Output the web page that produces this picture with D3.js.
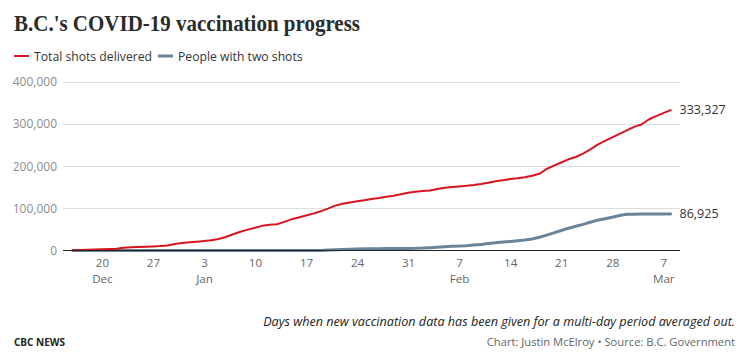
<!DOCTYPE html>
<html>
<head>
<meta charset="utf-8">
<script src="https://cdn.jsdelivr.net/npm/d3@7"></script>
<style>
  html, body { margin: 0; padding: 0; background: #fff; }
  svg { display: block; }
  text { font-family: "Open Sans", sans-serif; }
</style>
</head>
<body>
<svg id="chart" width="741" height="360"></svg>
<script>
// ---------- data ----------
const startDate = "2020-12-16";
const endDate = "2021-03-08";
const seriesNames = ["Total shots delivered", "People with two shots"];
const seriesColors = ["#d7141f", "#6a8499"];

const totalShots = [
  500, 1000, 1800, 2500, 3000, 3500, 4200, 6500, 8000, 8500, 9000, 9600, 10500, 12000, 15500, 18000,
  19500, 21000, 22500, 24500, 27500, 32000, 38500, 44500, 49500, 54000, 58500, 61000, 62500, 68000, 74000,
  78500, 83000, 87500, 93000, 99500, 106500, 111000, 114000, 117000, 119500, 122000, 124500, 127500, 130000,
  133500, 137000,
  139500, 141000, 142500, 146000, 149000, 150500, 152000, 153500, 155500, 158000, 161000, 164500, 167000,
  169500, 171500, 174000, 177500, 182000, 193500, 201500, 209000, 216500, 222000, 230000, 240000, 251500,
  260000, 268500,
  277000, 285000, 293500, 299000, 311000, 319000, 326000, 333327
];

const twoShots = [
  0, 0, 0, 0, 0, 0, 0, 0, 0, 0, 0, 0, 0, 0, 0, 0,
  0, 0, 0, 0, 0, 0, 0, 0, 0, 0, 0, 0, 0, 0, 0,
  0, 0, 0, 0, 1000, 2000, 2500, 3000, 3500, 4000, 4200, 4400, 4500, 4600,
  4800, 5000,
  5200, 5800, 6800, 8000, 9000, 10000, 10500, 11500, 13000, 14500, 16500, 18500, 20000,
  21500, 23000, 25000, 27500, 31500, 36500, 42000, 47500, 53000, 57500, 62000, 67000, 72000,
  75500, 79000,
  83000, 86000, 86300, 86500, 86600, 86700, 86800, 86925
];

const yTicks = [0, 100000, 200000, 300000, 400000];
const xTickDates = ["2020-12-20", "2020-12-27", "2021-01-03", "2021-01-10", "2021-01-17", "2021-01-24",
  "2021-01-31", "2021-02-07", "2021-02-14", "2021-02-21", "2021-02-28", "2021-03-07"];
const monthLabels = { "2020-12-20": "Dec", "2021-01-03": "Jan", "2021-02-07": "Feb", "2021-03-07": "Mar" };

const titleText = "B.C.'s COVID-19 vaccination progress";
const noteText = "Days when new vaccination data has been given for a multi-day period averaged out.";
const creditText = "Chart: Justin McElroy \u2022 Source: B.C. Government";
const brandText = "CBC NEWS";

// ---------- build ----------
const parse = d3.timeParse("%Y-%m-%d");
const dates = d3.timeDay.range(parse(startDate), d3.timeDay.offset(parse(endDate), 1));
const seriesData = [totalShots, twoShots].map(vals => vals.map((v, i) => ({ date: dates[i], value: v })));

const svg = d3.select("#chart");

const plotLeft = 63, plotRight = 680, plotTop = 82, plotBottom = 250.5;

const x = d3.scaleTime()
  .domain([new Date(2020, 11, 14, 16), new Date(2021, 2, 9, 7)])
  .range([plotLeft, plotRight]);
const y = d3.scaleLinear().domain([0, 400000]).range([plotBottom, plotTop]);

// title
svg.append("text")
  .attr("x", 14).attr("y", 30.5)
  .attr("textLength", 346).attr("lengthAdjust", "spacingAndGlyphs")
  .style("font-family", "'Liberation Serif', 'DejaVu Serif', serif")
  .style("font-size", "24px")
  .style("font-weight", "bold")
  .style("fill", "#2b2b2b")
  .text(titleText);

// legend
const legend = svg.append("g");
const legendX = [14, 158];
seriesNames.forEach((name, i) => {
  legend.append("line")
    .attr("x1", legendX[i]).attr("x2", legendX[i] + 15)
    .attr("y1", 56).attr("y2", 56)
    .attr("stroke", seriesColors[i]).attr("stroke-width", i === 0 ? 2 : 3);
  legend.append("text")
    .attr("x", legendX[i] + 20).attr("y", 60.5)
    .style("font-size", "12.2px").style("fill", "#333")
    .text(name);
});

// grid + y axis
const yAxis = d3.axisLeft(y).tickValues(yTicks).tickSize(0).tickPadding(6)
  .tickFormat(d3.format(","));
const gy = svg.append("g").attr("transform", `translate(${plotLeft},0)`).call(yAxis);
gy.select(".domain").remove();
gy.selectAll("text").style("font-family", "'Open Sans', sans-serif").style("font-size", "12px").style("fill", "#8c8c8c");

svg.append("g").selectAll("line")
  .data(yTicks.filter(d => d > 0))
  .join("line")
  .attr("x1", plotLeft).attr("x2", plotRight)
  .attr("y1", d => Math.round(y(d)) + 0.5).attr("y2", d => Math.round(y(d)) + 0.5)
  .attr("stroke", "#dedede").attr("stroke-width", 1);

// lines
const line = d3.line().x(d => x(d.date)).y(d => y(d.value)).curve(d3.curveLinear);
svg.append("g").selectAll("path")
  .data(seriesData.slice().reverse())
  .join("path")
  .attr("d", line)
  .attr("fill", "none")
  .attr("stroke", (d, i) => seriesColors[1 - i])
  .attr("stroke-width", (d, i) => i === 0 ? 3 : 2)
  .attr("stroke-linejoin", "round")
  .attr("stroke-linecap", "round");

// zero line
svg.append("line")
  .attr("x1", plotLeft).attr("x2", plotRight)
  .attr("y1", y(0)).attr("y2", y(0))
  .attr("stroke", "#222").attr("stroke-width", 1.2);

// x axis
const xAxis = d3.axisBottom(x)
  .tickValues(xTickDates.map(parse))
  .tickSize(0).tickPadding(8)
  .tickFormat(d3.timeFormat("%-d"));
const gx = svg.append("g").attr("transform", `translate(0,${plotBottom})`).call(xAxis);
gx.select(".domain").remove();
gx.selectAll("text").style("font-family", "'Open Sans', sans-serif").style("font-size", "11.6px").style("fill", "#666");
gx.selectAll(".tick").each(function(d) {
  const key = d3.timeFormat("%Y-%m-%d")(d);
  if (monthLabels[key]) {
    d3.select(this).append("text")
      .attr("y", 24).attr("dy", "0.71em")
      .attr("fill", "#666")
      .style("font-family", "'Open Sans', sans-serif").style("font-size", "11.6px")
      .attr("text-anchor", "middle")
      .text(monthLabels[key]);
  }
});

// end labels
seriesData.forEach((s, i) => {
  const last = s[s.length - 1];
  svg.append("text")
    .attr("x", x(last.date) + 9).attr("y", y(last.value)).attr("dy", "0.35em")
    .style("font-size", "12.5px").style("fill", "#333")
    .text(d3.format(",")(last.value));
});

// footer
svg.append("text")
  .attr("x", 735).attr("y", 326).attr("text-anchor", "end")
  .style("font-size", "12.6px").style("font-style", "italic").style("fill", "#222")
  .text(noteText);
svg.append("text")
  .attr("x", 735).attr("y", 346).attr("text-anchor", "end")
  .style("font-size", "11.2px").style("fill", "#666")
  .text(creditText);
svg.append("text")
  .attr("x", 14).attr("y", 346)
  .style("font-size", "10px").style("font-weight", "bold").style("fill", "#222")
  .text(brandText);
</script>
</body>
</html>
